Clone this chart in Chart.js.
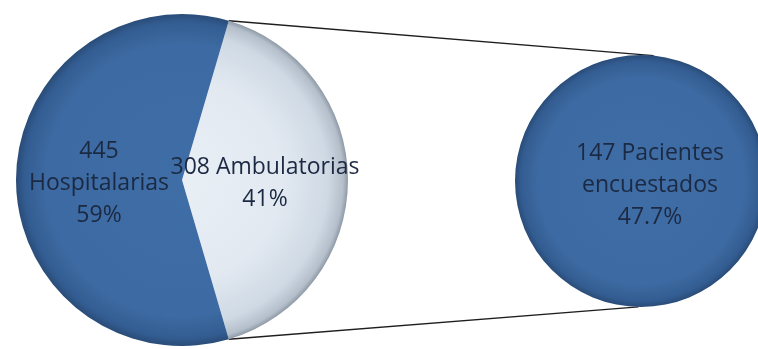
<!DOCTYPE html>
<html>
<head>
<meta charset="utf-8">
<script src="https://cdn.jsdelivr.net/npm/chart.js@4/dist/chart.umd.min.js"></script>
<style>
  html, body { margin: 0; padding: 0; background: #fff; overflow: hidden; }
  #wrap { position: relative; width: 758px; height: 349px; }
  #lines { position: absolute; left: 0; top: 0; z-index: 0; }
  .box { position: absolute; z-index: 1; }
  #main-box { left: 16px; top: 14px; width: 372px; height: 332px; }
  #sub-box { left: 515px; top: 55px; width: 252px; height: 252px; }
</style>
</head>
<body>
<div id="wrap">
  <canvas id="lines" width="758" height="349"></canvas>
  <div class="box" id="main-box"><canvas id="main-pie"></canvas></div>
  <div class="box" id="sub-box"><canvas id="sub-pie"></canvas></div>
</div>
<script>
// Consultas por tipo
var categories = ['Ambulatorias', 'Hospitalarias'];
var counts = [308, 445];
var percents = ['41%', '59%'];

// Desglose de las ambulatorias
var subCategories = ['Pacientes encuestados'];
var subCounts = [147];
var subPercents = ['47.7%'];

var total = counts.reduce(function(s, v) { return s + v; }, 0);
// the split slice sits centred on the right-hand side
var rotation = 90 - (counts[0] / total * 360) / 2;

var textColor = '#1b2942';
var font = '23px "Open Sans", sans-serif';

var blueStops = [[0, '#3f6da5'], [0.82, '#3d6aa2'], [0.95, '#335d92'], [1, '#2a4c78']];
var lightStops = [[0, '#e9eff5'], [0.6, '#e2e9f1'], [0.88, '#cfd9e4'], [0.97, '#b4bfcb'], [1, '#8e99a6']];

function radial(chart, stops) {
  var a = chart.chartArea;
  if (!a) return stops[0][1];
  var cx = (a.left + a.right) / 2, cy = (a.top + a.bottom) / 2;
  var r = Math.min(a.right - a.left, a.bottom - a.top) / 2;
  var g = chart.ctx.createRadialGradient(cx, cy, 0, cx, cy, r);
  stops.forEach(function(s) { g.addColorStop(s[0], s[1]); });
  return g;
}

function drawLines(ctx, lines, x, y) {
  ctx.save();
  ctx.fillStyle = textColor;
  ctx.font = font;
  ctx.textAlign = 'center';
  ctx.textBaseline = 'middle';
  var lh = 32;
  var y0 = y - (lines.length - 1) * lh / 2;
  lines.forEach(function(t, i) { ctx.fillText(t, x, y0 + i * lh); });
  ctx.restore();
}

var sliceLabels = {
  id: 'sliceLabels',
  afterDatasetsDraw: function(chart, args, opts) {
    var arcs = chart.getDatasetMeta(0).data;
    arcs.forEach(function(arc, i) {
      var p = opts.full ? { x: arc.x, y: arc.y } : arc.tooltipPosition();
      drawLines(chart.ctx, opts.text(i), p.x + (opts.dx || 0), p.y + (opts.dy || 0));
    });
  }
};

var mainChart = new Chart(document.getElementById('main-pie'), {
  type: 'pie',
  data: {
    labels: categories,
    datasets: [{
      data: counts,
      backgroundColor: function(ctx) { return radial(ctx.chart, ctx.dataIndex === 0 ? lightStops : blueStops); },
      borderWidth: 0
    }]
  },
  options: {
    responsive: true, maintainAspectRatio: false, animation: false,
    rotation: rotation,
    events: [],
    layout: { padding: { right: 40 } },
    plugins: {
      legend: { display: false }, tooltip: { enabled: false },
      sliceLabels: {
        text: function(i) {
          return i === 0
            ? [counts[0] + ' ' + categories[0], percents[0]]
            : [String(counts[1]), categories[1], percents[1]];
        },
        dy: 3
      }
    }
  },
  plugins: [sliceLabels]
});

var subChart = new Chart(document.getElementById('sub-pie'), {
  type: 'pie',
  data: {
    labels: subCategories,
    datasets: [{
      data: subCounts,
      backgroundColor: function(ctx) { return radial(ctx.chart, blueStops); },
      borderWidth: 0
    }]
  },
  options: {
    responsive: true, maintainAspectRatio: false, animation: false,
    events: [],
    plugins: {
      legend: { display: false }, tooltip: { enabled: false },
      sliceLabels: {
        full: true,
        text: function(i) {
          var words = subCategories[i].split(' ');
          return [subCounts[i] + ' ' + words[0], words.slice(1).join(' '), subPercents[i]];
        },
        dx: 9, dy: 4
      }
    }
  },
  plugins: [sliceLabels]
});

// connector lines from the split slice edges to the top and bottom of the second pie
(function() {
  var lc = document.getElementById('lines').getContext('2d');
  var mb = document.getElementById('main-box'), sb = document.getElementById('sub-box');
  var arc = mainChart.getDatasetMeta(0).data[0];
  var sub = subChart.getDatasetMeta(0).data[0];
  var ax = mb.offsetLeft + arc.x, ay = mb.offsetTop + arc.y, ar = arc.outerRadius;
  var bx = sb.offsetLeft + sub.x, by = sb.offsetTop + sub.y, br = sub.outerRadius;
  lc.strokeStyle = '#1e1e1e';
  lc.lineWidth = 1.3;
  lc.beginPath();
  lc.moveTo(ax + ar * Math.cos(arc.startAngle), ay + ar * Math.sin(arc.startAngle));
  lc.lineTo(bx + br * Math.cos(-Math.PI / 2 + 0.1), by + br * Math.sin(-Math.PI / 2 + 0.1));
  lc.moveTo(ax + ar * Math.cos(arc.endAngle), ay + ar * Math.sin(arc.endAngle));
  lc.lineTo(bx + br * Math.cos(Math.PI / 2 + 0.02), by + br * Math.sin(Math.PI / 2 + 0.02));
  lc.stroke();
})();
</script>
</body>
</html>
